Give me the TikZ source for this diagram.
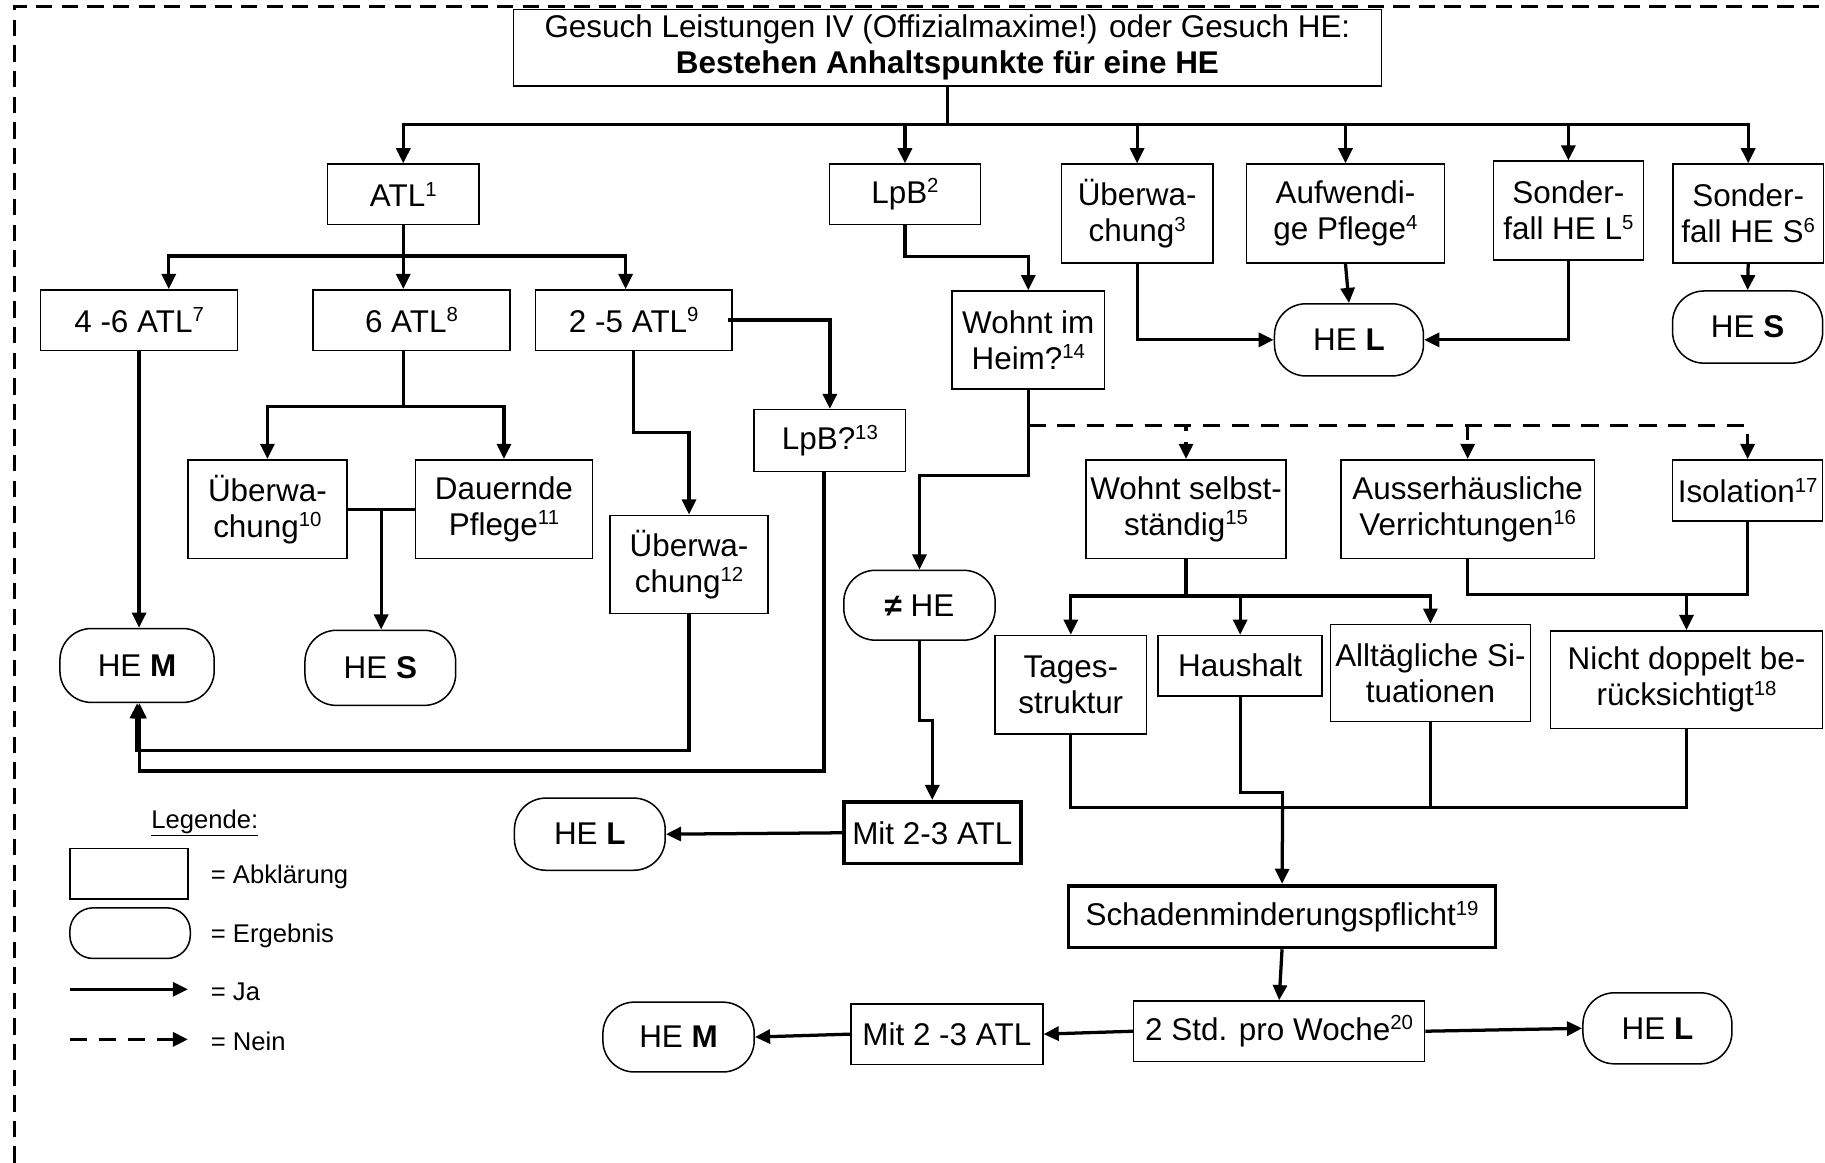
\documentclass[tikz,border=0pt]{standalone}
\usepackage{fontspec}
\setmainfont{Liberation Sans}
\usetikzlibrary{arrows.meta,calc}
\newcommand\fnote[1]{\raisebox{9pt}{\fontsize{17.5}{17.5}\selectfont #1}}

\begin{document}
\begin{tikzpicture}[x=1pt,y=-1pt,
    font=\fontsize{27}{31}\selectfont,
    >={Triangle[length=13pt,width=12pt]},
    box/.style={draw, line width=1.3pt, align=center, inner sep=0pt},
    result/.style={box, rounded corners=27pt},
    thickbox/.style={box, line width=3.2pt},
    link/.style={line width=2.8pt},
    nolink/.style={link, dash pattern=on 15pt off 10pt},
    borderline/.style={line width=2.6pt, dash pattern=on 14pt off 8pt},
    legtext/.style={font=\fontsize{22}{26}\selectfont, anchor=west, inner sep=0pt}]
    \useasboundingbox (0,0) rectangle (1568,999);
    \draw [borderline] (12.5,999) -- (12.5,5.5) -- (1568,5.5);

    % Gesuch
    \node [box, minimum width=746, minimum height=66] (top) at (814,41)
      {Gesuch Leistungen IV (Offizialmaxime!) oder Gesuch HE:\\\textbf{Bestehen Anhaltspunkte für eine HE}};

    \node [box, minimum width=130, minimum height=52] (atl) at (346.5,167) {ATL\fnote{1}};
    \node [box, minimum width=130, minimum height=52] (lpb) at (777.5,167) {LpB\fnote{2}};
    \node [box, minimum width=130, minimum height=85] (ueb3) at (977,183.5) {Überwa-\\chung\fnote{3}};
    \node [box, minimum width=170, minimum height=85] (aufw) at (1156,183.5) {Aufwendi-\\ge Pflege\fnote{4}};
    \node [box, minimum width=129, minimum height=85] (sonl) at (1347.5,181) {Sonder-\\fall HE L\fnote{5}};
    \node [box, minimum width=129, minimum height=85] (sons) at (1502,183.5) {Sonder-\\fall HE S\fnote{6}};
    \node [result, minimum width=128, minimum height=62] (hel1) at (1159,292) {HE \textbf{L}};
    \node [result, minimum width=129, minimum height=62] (hes1) at (1501.5,281) {HE \textbf{S}};

    % ATL
    \node [box, minimum width=169, minimum height=52] (atl46) at (119.5,275) {4 -6 ATL\fnote{7}};
    \node [box, minimum width=169, minimum height=52] (atl6) at (353.5,275) {6 ATL\fnote{8}};
    \node [box, minimum width=169, minimum height=52] (atl25) at (544.5,275) {2 -5 ATL\fnote{9}};
    \node [box, minimum width=136.5, minimum height=85] (ueb10) at (229.75,437.5) {Überwa-\\chung\fnote{10}};
    \node [box, minimum width=152, minimum height=85] (dauer) at (433,437.5) {Dauernde\\Pflege\fnote{11}};
    \node [box, minimum width=136, minimum height=84.5] (ueb12) at (592,485) {Überwa-\\chung\fnote{12}};
    \node [box, minimum width=130, minimum height=53] (lpb13) at (713,378.5) {LpB?\fnote{13}};
    \node [result, minimum width=132.5, minimum height=63.5] (hem1) at (117.75,571.75) {HE \textbf{M}};
    \node [result, minimum width=129.5, minimum height=64.5] (hes2) at (326.75,573.8) {HE \textbf{S}};

    % LpB
    \node [box, minimum width=131, minimum height=84] (heim) at (883.5,292) {Wohnt im\\Heim?\fnote{14}};
    \node [result, minimum width=130, minimum height=60] (neq) at (790,520) {\textbf{≠} HE};
    \node [thickbox, minimum width=152, minimum height=53] (mit23a) at (801,715.5) {Mit 2-3 ATL};
    \node [result, minimum width=129.5, minimum height=62] (hel2) at (506.75,716.7) {HE \textbf{L}};
    \node [box, minimum width=172, minimum height=85] (wohns) at (1019,437.5) {Wohnt selbst-\\ständig\fnote{15}};
    \node [box, minimum width=218, minimum height=85] (ausser) at (1261,437.5) {Ausserhäusliche\\Verrichtungen\fnote{16}};
    \node [box, minimum width=129, minimum height=52.7] (iso) at (1501.5,421.4) {Isolation\fnote{17}};
    \node [box, minimum width=130, minimum height=84.6] (tages) at (920,588.3) {Tages-\\struktur};
    \node [box, minimum width=141, minimum height=52] (haus) at (1065.5,572) {Haushalt};
    \node [box, minimum width=172, minimum height=83.5] (allt) at (1229,578.3) {Alltägliche Si-\\tuationen};
    \node [box, minimum width=234, minimum height=84] (nicht) at (1449,584) {Nicht doppelt be-\\rücksichtigt\fnote{18}};
    \node [thickbox, minimum width=367, minimum height=53] (schaden) at (1101.5,787.5) {Schadenminderungspflicht\fnote{19}};
    \node [box, minimum width=250, minimum height=52] (std) at (1099,886) {2 Std. pro Woche\fnote{20}};
    \node [result, minimum width=128, minimum height=61] (hel3) at (1424,883.5) {HE \textbf{L}};
    \node [box, minimum width=165, minimum height=52] (mit23b) at (813.5,888.5) {Mit 2 -3 ATL};
    \node [result, minimum width=130, minimum height=60] (hem2) at (583,891) {HE \textbf{M}};

    % Legende
    \node [inner sep=0pt, font=\fontsize{22}{26}\selectfont] (leg) at (176,707) {\underline{Legende:}};
    \node [box, minimum width=101.5, minimum height=43.5] (legbox) at (110.75,750.75) {};
    \node [result, rounded corners=20pt, minimum width=103.5, minimum height=43.5] (legres) at (111.75,801.75) {};
    \coordinate (ja1) at (60,850);
    \coordinate (ja2) at (161.5,850);
    \coordinate (nein1) at (60,893);
    \coordinate (nein2) at (161.5,893);
    \node [legtext] (legab) at (181,753) {= Abklärung};
    \node [legtext] (leger) at (181,804) {= Ergebnis};
    \node [legtext] (legja) at (181,852) {= Ja};
    \node [legtext] (legnein) at (181,895) {= Nein};
    \draw [link,->] (ja1) -- (ja2);
    \draw [nolink,->] (nein1) -- (nein2);

    % connectors
    \coordinate (bus) at (814,107);
    \draw [link] (top.south) -- (bus);
    \foreach \n in {atl,lpb,ueb3,aufw,sonl,sons}
      \draw [link,->] (bus) -| (\n.north);
    \draw [link,->] (aufw.south) -- (hel1.north);
    \draw [link,->] (ueb3.south) |- (hel1.west);
    \draw [link,->] (sonl.south) |- (hel1.east);
    \draw [link,->] (sons.south) -- (hes1.north);

    \coordinate (atlbus) at (346.5,220);
    \draw [link] (atl.south) -- (atlbus);
    \draw [link,->] (atlbus) -| ([xshift=25.5pt]atl46.north);
    \draw [link,->] (atlbus) -- (atlbus |- atl6.north);
    \draw [link,->] (atlbus) -| ([xshift=-7pt]atl25.north);
    \draw [link,->] (atl46.south) -- (atl46.south |- hem1.north);

    \coordinate (sixbus) at (346.5,349);
    \draw [link] ([xshift=-7pt]atl6.south) -- (sixbus);
    \draw [link,->] (sixbus) -| (ueb10.north);
    \draw [link,->] (sixbus) -| (dauer.north);
    \draw [link] (ueb10.east) -- (dauer.west);
    \coordinate (mid) at ($(ueb10.east)!0.5!(dauer.west)$);
    \draw [link,->] (mid) -- (mid |- hes2.north);

    \draw [link,->] (atl25.south) -- ++(0,70) -| (ueb12.north);
    \draw [link,->] ([xshift=-4pt]atl25.east) -| (lpb13.north);
    \draw [link,->] (ueb12.south) -- (ueb12.south |- 0,645) -| (hem1.south);
    \draw [link,->] ([xshift=-5pt]lpb13.south) -- ([xshift=-5pt]lpb13.south |- 0,662.5) -| ([xshift=2pt]hem1.south);

    \draw [link,->] (lpb.south) -- ++(0,27) -| (heim.north);
    \draw [link,->] (heim.south) -- ++(0,74) -| (neq.north);
    \coordinate (heimno) at ([yshift=-31pt]heim.south);
    \foreach \n in {wohns,ausser,iso}
      \draw [nolink,->] (heimno) -| (\n.north);
    \draw [link,->] (neq.south) -- ++(0,68.6) -| (mit23a.north);
    \draw [link,->] (mit23a.west) -- (hel2.east);

    \coordinate (wbus) at (1019,512);
    \draw [link] (wohns.south) -- (wbus);
    \foreach \n in {tages,haus,allt}
      \draw [link,->] (wbus) -| (\n.north);
    \draw [link] (ausser.south) -- ++(0,30) -| (iso.south);
    \coordinate (abus) at (1449,510);
    \draw [link,->] (abus) -- (nicht.north);

    \coordinate (sbus) at (1102,694);
    \draw [link] (tages.south) |- (sbus);
    \draw [link] (haus.south) -- ++(0,82) -| (sbus);
    \draw [link] (allt.south) |- (sbus);
    \draw [link] (nicht.south) |- (sbus);
    \draw [link,->] (sbus) -- (schaden.north);
    \draw [link,->] (schaden.south) -- (std.north);
    \draw [link,->] (std.east) -- (hel3.west);
    \draw [link,->] (std.west) -- (mit23b.east);
    \draw [link,->] (mit23b.west) -- (hem2.east);
\end{tikzpicture}
\end{document}
